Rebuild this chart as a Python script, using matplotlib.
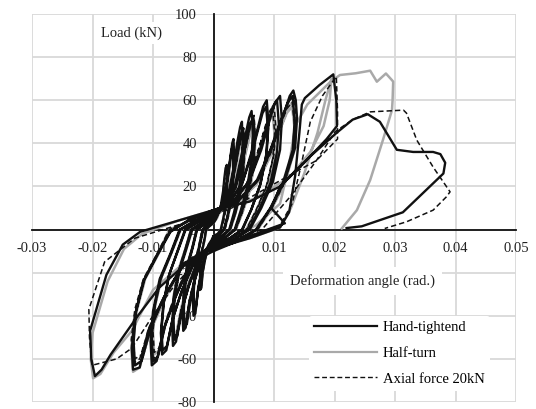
import matplotlib
matplotlib.use("Agg")
import matplotlib.pyplot as plt
from matplotlib.lines import Line2D

plt.rcParams['font.family'] = ['Liberation Serif', 'DejaVu Serif']

# ---------------- data (deformation angle rad., load kN) ----------------
x_ticks = [-0.03, -0.02, -0.01, 0, 0.01, 0.02, 0.03, 0.04, 0.05]
x_ticklabels = ["-0.03", "-0.02", "-0.01", "0", "0.01", "0.02", "0.03", "0.04", "0.05"]
y_ticks = [-80, -60, -40, -20, 0, 20, 40, 60, 80, 100]
y_ticklabels = ["-80", "-60", "-40", "-20", "0", "20", "40", "60", "80", "100"]

series_names = ["Hand-tightend", "Half-turn", "Axial force 20kN"]

# Hand-tightend: one list of (angle, load) points per loading cycle
hand_cycles = [
    [(0, -3), (0.0007, -2), (0.0012, 0), (0.0016, 5), (0.0020, 11), (0.0022, 18), (0.0023, 25), (0.0022, 30), (0.0020, 28.5),
     (0.0018, 24), (0.0016, 18), (0.0012, 11), (0.0006, 6), (0, 3), (-0.0007, 1.5), (-0.0012, 0), (-0.0015, -5), (-0.0019, -10),
     (-0.0022, -17), (-0.0022, -23), (-0.0022, -28), (-0.0020, -27), (-0.0018, -20), (-0.0014, -14), (-0.0008, -7), (-0.0003, -5), (0, -3)],
    [(0.0010, -2.4), (0.0018, 0), (0.0024, 6.7), (0.0029, 15), (0.0033, 25), (0.0034, 34), (0.0033, 42), (0.0031, 40), (0.0028, 34),
     (0.0024, 25), (0.0018, 15.5), (0.0009, 8.4), (0, 4), (-0.0010, 2), (-0.0018, 0), (-0.0023, -7), (-0.0029, -15), (-0.0032, -24),
     (-0.0034, -33), (-0.0033, -40), (-0.0030, -39), (-0.0026, -29), (-0.0020, -20), (-0.0013, -10), (-0.0005, -7), (0, -4)],
    [(0.0010, -2.4), (0.0017, 0), (0.0023, 6), (0.0028, 14), (0.0032, 23), (0.0033, 31), (0.0032, 39), (0.0030, 37), (0.0027, 31),
     (0.0023, 23), (0.0017, 14), (0.0008, 8), (0, 4), (-0.0010, 2), (-0.0017, 0), (-0.0022, -6.5), (-0.0028, -14), (-0.0031, -22),
     (-0.0033, -30), (-0.0032, -37), (-0.0029, -36), (-0.0025, -27), (-0.0019, -18), (-0.0012, -9.5), (-0.0005, -6.5), (0, -4)],
    [(0.0014, -3), (0.0026, 0), (0.0034, 8), (0.0042, 18), (0.0047, 30), (0.0048, 41), (0.0047, 50), (0.0044, 47.5), (0.0039, 40),
     (0.0034, 30), (0.0026, 18.5), (0.0013, 10), (0, 5), (-0.0015, 2.5), (-0.0028, 0), (-0.0035, -8.5), (-0.0044, -17), (-0.0049, -28),
     (-0.0051, -39), (-0.0050, -47), (-0.0046, -45.5), (-0.0040, -34), (-0.0031, -23.5), (-0.0019, -12), (-0.0008, -8), (0, -5)],
    [(0.0015, -3), (0.0027, 0), (0.0036, 7.5), (0.0044, 17), (0.0049, 28), (0.0050, 38.5), (0.0049, 47), (0.0046, 44.6), (0.0041, 37.6),
     (0.0035, 28), (0.0027, 17.4), (0.0013, 9.4), (0, 5), (-0.0014, 2.5), (-0.0027, 0), (-0.0034, -8), (-0.0042, -16.6), (-0.0047, -27),
     (-0.0049, -37), (-0.0048, -45), (-0.0044, -43.7), (-0.0038, -33), (-0.0030, -22.5), (-0.0018, -11.7), (-0.0008, -7.6), (0, -5)],
    [(0.0019, -3.6), (0.0035, 0), (0.0045, 8.8), (0.0056, 20), (0.0063, 33), (0.0065, 45), (0.0063, 55), (0.0059, 52), (0.0053, 44),
     (0.0045, 33), (0.0035, 20), (0.0018, 11), (0, 6), (-0.0020, 3), (-0.0037, 0), (-0.0047, -9.7), (-0.0058, -20), (-0.0066, -32),
     (-0.0068, -45), (-0.0067, -54), (-0.0062, -52), (-0.0054, -39), (-0.0042, -27), (-0.0025, -14), (-0.0010, -9), (0, -6)],
    [(0.0020, -3.6), (0.0036, 0), (0.0047, 8.3), (0.0058, 19), (0.0066, 31), (0.0068, 42.6), (0.0066, 52), (0.0061, 49.4), (0.0055, 41.6),
     (0.0047, 31), (0.0036, 19.2), (0.0018, 10.4), (0, 6), (-0.0019, 3), (-0.0035, 0), (-0.0045, -9.2), (-0.0056, -19), (-0.0064, -30.6),
     (-0.0066, -42.3), (-0.0065, -51), (-0.0060, -49.5), (-0.0052, -37), (-0.0040, -25.5), (-0.0024, -13), (-0.0010, -8.7), (0, -6)],
    [(0.0026, -4.2), (0.0048, 0), (0.0063, 9.6), (0.0078, 21.6), (0.0088, 36), (0.0091, 49), (0.0088, 60), (0.0082, 57), (0.0074, 48),
     (0.0063, 36), (0.0048, 22), (0.0025, 12), (0, 7), (-0.0026, 3.5), (-0.0047, 0), (-0.0060, -10.4), (-0.0074, -21.5), (-0.0083, -35),
     (-0.0087, -48), (-0.0085, -58), (-0.0078, -56), (-0.0068, -42), (-0.0053, -29), (-0.0032, -15), (-0.0013, -10), (0, -7)],
    [(0.0026, -4.2), (0.0047, 0), (0.0062, 9), (0.0077, 20.5), (0.0087, 34), (0.0090, 46.7), (0.0087, 57), (0.0081, 54), (0.0073, 45.6),
     (0.0062, 34), (0.0047, 21), (0.0024, 11.4), (0, 7), (-0.0025, 3.5), (-0.0046, 0), (-0.0059, -10), (-0.0073, -20.7), (-0.0082, -33.6),
     (-0.0086, -46.5), (-0.0084, -56), (-0.0077, -54), (-0.0067, -40.9), (-0.0052, -28), (-0.0031, -14.6), (-0.0013, -9.5), (0, -7)],
    [(0.0033, -4.8), (0.0060, 0), (0.0079, 10), (0.0098, 22), (0.0110, 37), (0.0113, 51), (0.0110, 62), (0.0102, 59), (0.0092, 50),
     (0.0079, 37), (0.0060, 23), (0.0031, 12.4), (0, 8), (-0.0031, 4), (-0.0056, 0), (-0.0071, -11), (-0.0089, -23), (-0.0100, -38),
     (-0.0104, -52), (-0.0102, -63), (-0.0094, -61), (-0.0082, -46), (-0.0063, -31.5), (-0.0039, -16), (-0.0015, -11), (0, -8)],
    [(0.0032, -4.8), (0.0058, 0), (0.0076, 9.6), (0.0094, 21.6), (0.0105, 36), (0.0108, 49), (0.0105, 60), (0.0098, 57), (0.0088, 48),
     (0.0076, 36), (0.0058, 22), (0.0030, 12), (0, 8), (-0.0030, 4), (-0.0055, 0), (-0.0070, -11), (-0.0087, -22.6), (-0.0098, -36.6),
     (-0.0102, -50.6), (-0.0100, -61), (-0.0092, -59), (-0.0080, -44.5), (-0.0062, -30.5), (-0.0038, -16), (-0.0015, -10.4), (0, -8)],
    [(0.0040, -5), (0.0072, 0), (0.0096, 10.6), (0.0118, 23), (0.0135, 38), (0.0138, 52), (0.0136, 60), (0.0132, 64.5), (0.0126, 62),
     (0.0113, 51), (0.0096, 38), (0.0074, 23), (0.0040, 13), (0, 9), (-0.0040, 4.5), (-0.0072, -1), (-0.0094, -12), (-0.0116, -24),
     (-0.0130, -40), (-0.0135, -55), (-0.0133, -65), (-0.0122, -64), (-0.0108, -47), (-0.0083, -32), (-0.0050, -16.5), (-0.0020, -11), (0, -9)],
    [(0.0040, -5), (0.0070, 0), (0.0094, 10), (0.0115, 22), (0.0131, 37), (0.0134, 50), (0.0131, 62), (0.0123, 59), (0.0110, 49.6),
     (0.0094, 37), (0.0072, 23), (0.0038, 12.5), (0, 9), (-0.0040, 4.5), (-0.0071, -1), (-0.0092, -11.5), (-0.0114, -23), (-0.0128, -38),
     (-0.0132, -52), (-0.0130, -63), (-0.0119, -61), (-0.0104, -46), (-0.0081, -31), (-0.0049, -16), (-0.0020, -11), (0, -9)],
    [(0.0060, -4), (0.0110, 1), (0.0125, 8), (0.0135, 25), (0.0142, 45), (0.0146, 58), (0.0151, 61), (0.0175, 67), (0.0198, 72),
     (0.0203, 60), (0.0204, 48), (0.0187, 42), (0.0150, 31), (0.0110, 20), (0.0060, 13), (0, 9), (-0.0060, 4), (-0.0121, -1),
     (-0.0150, -7), (-0.0177, -21), (-0.0204, -47), (-0.0202, -60), (-0.0196, -68), (-0.0185, -65), (-0.0170, -58), (-0.0150, -50),
     (-0.0125, -40), (-0.0090, -27), (-0.0050, -17), (0, -10)],
    [(0.0060, -3), (0.0118, 2.9), (0.0096, 9.8), (0.0110, 20), (0.0160, 34), (0.0204, 45), (0.0230, 51), (0.0255, 53.5), (0.0275, 50),
     (0.0290, 43), (0.0303, 37), (0.0330, 36), (0.0363, 36), (0.0375, 35), (0.0383, 31), (0.0380, 26), (0.0313, 8), (0.0245, 1.5),
     (0.0220, 0.7)],
]

half_cycles = [
    [(0, -3), (0.0007, -2), (0.0012, 0), (0.0016, 4.3), (0.0020, 10), (0.0022, 16), (0.0023, 22), (0.0022, 27), (0.0020, 25.6),
     (0.0018, 21.6), (0.0016, 16), (0.0012, 10), (0.0006, 5.4), (0, 3), (-0.0007, 1.5), (-0.0012, 0), (-0.0015, -4.9), (-0.0019, -10),
     (-0.0022, -16), (-0.0022, -22.4), (-0.0022, -27), (-0.0020, -26), (-0.0018, -19.7), (-0.0014, -13.5), (-0.0008, -7), (-0.0003, -4.6), (0, -3)],
    [(0.0010, -2.4), (0.0018, 0), (0.0024, 6), (0.0029, 13), (0.0033, 22), (0.0034, 30), (0.0033, 37), (0.0031, 35), (0.0028, 30),
     (0.0024, 22), (0.0018, 13.7), (0.0009, 7.4), (0, 4), (-0.0010, 2), (-0.0018, 0), (-0.0023, -6.8), (-0.0029, -14), (-0.0032, -23),
     (-0.0034, -31.5), (-0.0033, -38), (-0.0030, -37), (-0.0026, -28), (-0.0020, -19), (-0.0013, -10), (-0.0005, -6.5), (0, -4)],
    [(0.0015, -3), (0.0028, 0), (0.0036, 7.2), (0.0045, 16), (0.0050, 27), (0.0052, 37), (0.0050, 45), (0.0047, 43), (0.0042, 36),
     (0.0036, 27), (0.0028, 16.7), (0.0014, 9), (0, 5), (-0.0015, 2.5), (-0.0028, 0), (-0.0035, -8.3), (-0.0044, -17), (-0.0049, -27.6),
     (-0.0051, -38), (-0.0050, -46), (-0.0046, -44.6), (-0.0040, -33.6), (-0.0031, -23), (-0.0019, -12), (-0.0008, -7.8), (0, -5)],
    [(0.0020, -3.6), (0.0037, 0), (0.0048, 8), (0.0060, 18), (0.0067, 30), (0.0069, 41), (0.0067, 50), (0.0062, 47.5), (0.0056, 40),
     (0.0048, 30), (0.0037, 18.5), (0.0019, 10), (0, 6), (-0.0020, 3), (-0.0037, 0), (-0.0047, -9.4), (-0.0058, -19), (-0.0066, -31),
     (-0.0068, -43), (-0.0067, -52), (-0.0062, -50), (-0.0054, -38), (-0.0042, -26), (-0.0025, -13.5), (-0.0010, -8.8), (0, -6)],
    [(0.0020, -3.6), (0.0036, 0), (0.0047, 7.5), (0.0058, 17), (0.0066, 28), (0.0068, 38.5), (0.0066, 47), (0.0061, 44.6), (0.0055, 37.6),
     (0.0047, 28), (0.0036, 17.4), (0.0018, 9.4), (0, 6), (-0.0019, 3), (-0.0036, 0), (-0.0046, -8.8), (-0.0057, -18), (-0.0065, -29.4),
     (-0.0067, -40.7), (-0.0066, -49), (-0.0061, -47.5), (-0.0053, -35.8), (-0.0041, -24.5), (-0.0025, -12.7), (-0.0010, -8.3), (0, -6)],
    [(0.0030, -4.2), (0.0055, 0), (0.0072, 9), (0.0089, 20), (0.0100, 33.6), (0.0103, 46), (0.0100, 56), (0.0093, 53), (0.0084, 45),
     (0.0072, 33.6), (0.0055, 20.7), (0.0028, 11), (0, 7), (-0.0030, 3.5), (-0.0055, 0), (-0.0070, -11), (-0.0087, -22.6),
     (-0.0098, -36.6), (-0.0102, -50.6), (-0.0100, -61), (-0.0092, -59), (-0.0080, -44.5), (-0.0062, -30.5), (-0.0038, -16),
     (-0.0015, -10.4), (0, -7)],
    [(0.0029, -4.2), (0.0054, 0), (0.0070, 8.5), (0.0087, 19), (0.0098, 32), (0.0101, 43.5), (0.0098, 53), (0.0091, 50), (0.0082, 42.4),
     (0.0070, 32), (0.0054, 19.6), (0.0027, 10.6), (0, 7), (-0.0029, 3.5), (-0.0054, 0), (-0.0069, -10.4), (-0.0085, -21.5),
     (-0.0096, -34.8), (-0.0100, -48), (-0.0098, -58), (-0.0090, -56), (-0.0078, -42.3), (-0.0061, -29), (-0.0037, -15),
     (-0.0015, -9.9), (0, -7)],
    [(0.0040, -4.8), (0.0073, 0), (0.0096, 9.6), (0.0118, 21.6), (0.0133, 36), (0.0137, 49), (0.0133, 60), (0.0124, 57), (0.0112, 48),
     (0.0096, 36), (0.0073, 22), (0.0037, 12), (0, 8), (-0.0040, 4), (-0.0073, 0), (-0.0093, -12), (-0.0116, -24), (-0.0130, -40),
     (-0.0136, -55), (-0.0133, -66), (-0.0122, -64), (-0.0106, -48), (-0.0082, -33), (-0.0051, -17), (-0.0020, -11), (0, -8)],
    [(0.0039, -4.8), (0.0071, 0), (0.0094, 9), (0.0116, 20.5), (0.0130, 34), (0.0134, 46.7), (0.0130, 57), (0.0121, 54), (0.0109, 45.6),
     (0.0094, 34), (0.0071, 21), (0.0036, 11.4), (0, 8), (-0.0039, 4), (-0.0071, 0), (-0.0091, -11.3), (-0.0113, -23), (-0.0127, -38),
     (-0.0133, -52), (-0.0130, -63), (-0.0119, -61), (-0.0104, -46), (-0.0080, -31.5), (-0.0050, -16), (-0.0020, -10.7), (0, -8)],
    [(0.0060, -4), (0.0110, 1), (0.0128, 10), (0.0150, 26), (0.0172, 45), (0.0185, 60), (0.0195, 70), (0.0192, 60), (0.0182, 48),
     (0.0160, 36), (0.0125, 24), (0.0065, 14), (0, 9), (-0.0060, 4), (-0.0118, -2), (-0.0148, -9), (-0.0175, -24), (-0.0200, -48),
     (-0.0203, -60), (-0.0199, -69), (-0.0187, -67), (-0.0165, -57), (-0.0135, -47), (-0.0100, -28), (-0.0055, -17), (0, -9)],
    [(0.0070, 2), (0.0110, 12), (0.0125, 30), (0.0135, 48), (0.0155, 58), (0.0173, 63), (0.0193, 68.5), (0.0209, 71.7), (0.0235, 72.5),
     (0.0259, 73.7), (0.0270, 68.6), (0.0285, 72.4), (0.0295, 69.3), (0.0297, 68.6), (0.0296, 60), (0.0295, 55.4), (0.0280, 41.5),
     (0.0259, 23), (0.0237, 9), (0.0212, 0.5)],
]

axial_cycles = [
    [(0, -3), (0.0007, -2), (0.0013, 0), (0.0017, 4), (0.0021, 10), (0.0022, 16), (0.0023, 22), (0.0022, 27), (0.0020, 25),
     (0.0017, 21), (0.0015, 15), (0.0011, 9.5), (0.0005, 5), (0, 3), (-0.0007, 1.5), (-0.0013, 0), (-0.0016, -5), (-0.0020, -10),
     (-0.0022, -16), (-0.0023, -22), (-0.0022, -27), (-0.0020, -26), (-0.0017, -19), (-0.0013, -13), (-0.0007, -7), (-0.0003, -4.5), (0, -3)],
    [(0.0010, -2.4), (0.0019, 0), (0.0025, 6.4), (0.0030, 14), (0.0033, 24), (0.0034, 33), (0.0033, 40), (0.0031, 38), (0.0027, 32),
     (0.0023, 24), (0.0017, 15), (0.0008, 8), (0, 4), (-0.0010, 2), (-0.0019, 0), (-0.0024, -7), (-0.0030, -14), (-0.0033, -23),
     (-0.0035, -31.5), (-0.0033, -38), (-0.0030, -37), (-0.0026, -28), (-0.0020, -19), (-0.0012, -10), (-0.0005, -6.5), (0, -4)],
    [(0.0015, -3), (0.0028, 0), (0.0036, 7.5), (0.0045, 17), (0.0050, 28), (0.0052, 38.5), (0.0050, 47), (0.0047, 44.6), (0.0042, 37.6),
     (0.0036, 28), (0.0028, 17.4), (0.0014, 9.4), (0, 5), (-0.0015, 2.5), (-0.0028, 0), (-0.0035, -8), (-0.0044, -16.6), (-0.0049, -27),
     (-0.0051, -37), (-0.0050, -45), (-0.0046, -43.7), (-0.0040, -33), (-0.0031, -22.5), (-0.0019, -11.7), (-0.0008, -7.6), (0, -5)],
    [(0.0015, -3), (0.0027, 0), (0.0035, 7.2), (0.0044, 16), (0.0049, 27), (0.0051, 37), (0.0049, 45), (0.0046, 43), (0.0041, 36),
     (0.0035, 27), (0.0027, 16.7), (0.0013, 9), (0, 5), (-0.0014, 2.5), (-0.0027, 0), (-0.0034, -7.7), (-0.0043, -16), (-0.0048, -26),
     (-0.0050, -35.7), (-0.0049, -43), (-0.0045, -41.7), (-0.0039, -31.4), (-0.0030, -21.5), (-0.0018, -11), (-0.0008, -7.3), (0, -5)],
    [(0.0020, -3.6), (0.0037, 0), (0.0048, 8.5), (0.0060, 19), (0.0067, 32), (0.0069, 43.5), (0.0067, 53), (0.0062, 50), (0.0056, 42),
     (0.0048, 32), (0.0037, 19.6), (0.0019, 10.6), (0, 6), (-0.0020, 3), (-0.0037, 0), (-0.0047, -9.4), (-0.0058, -19), (-0.0066, -31),
     (-0.0068, -43), (-0.0067, -52), (-0.0062, -50), (-0.0054, -38), (-0.0042, -26), (-0.0025, -13.5), (-0.0010, -8.8), (0, -6)],
    [(0.0020, -3.6), (0.0036, 0), (0.0047, 8), (0.0058, 18), (0.0066, 30), (0.0068, 41), (0.0066, 50), (0.0061, 47.5), (0.0055, 40),
     (0.0047, 30), (0.0036, 18.5), (0.0018, 10), (0, 6), (-0.0019, 3), (-0.0036, 0), (-0.0046, -9), (-0.0057, -18.5), (-0.0065, -30),
     (-0.0067, -41.5), (-0.0066, -50), (-0.0061, -48.5), (-0.0053, -36.5), (-0.0041, -25), (-0.0025, -13), (-0.0010, -8.5), (0, -6)],
    [(0.0030, -4.2), (0.0055, 0), (0.0072, 9.3), (0.0089, 21), (0.0100, 35), (0.0103, 47.5), (0.0100, 58), (0.0093, 55), (0.0084, 46.4),
     (0.0072, 35), (0.0055, 21.5), (0.0028, 11.6), (0, 7), (-0.0030, 3.5), (-0.0055, 0), (-0.0070, -10.8), (-0.0087, -22), (-0.0098, -36),
     (-0.0102, -50), (-0.0100, -60), (-0.0092, -58), (-0.0080, -44), (-0.0062, -30), (-0.0038, -15.6), (-0.0015, -10), (0, -7)],
    [(0.0029, -4.2), (0.0054, 0), (0.0070, 8.8), (0.0087, 19.8), (0.0098, 33), (0.0101, 45), (0.0098, 55), (0.0091, 52), (0.0082, 44),
     (0.0070, 33), (0.0054, 20.4), (0.0027, 11), (0, 7), (-0.0029, 3.5), (-0.0054, 0), (-0.0069, -10.3), (-0.0085, -21), (-0.0096, -34),
     (-0.0100, -47.3), (-0.0098, -57), (-0.0090, -55), (-0.0078, -41.6), (-0.0061, -28.5), (-0.0037, -14.8), (-0.0015, -9.7), (0, -7)],
    [(0.0040, -4.8), (0.0073, 0), (0.0096, 10), (0.0118, 22), (0.0133, 37), (0.0137, 51), (0.0133, 62), (0.0124, 59), (0.0112, 50),
     (0.0096, 37), (0.0073, 23), (0.0037, 12.4), (0, 8), (-0.0040, 4), (-0.0073, 0), (-0.0093, -11), (-0.0116, -23), (-0.0130, -37),
     (-0.0136, -51), (-0.0133, -62), (-0.0122, -60), (-0.0106, -45), (-0.0082, -31), (-0.0051, -16), (-0.0020, -10.5), (0, -8)],
    [(0.0039, -4.8), (0.0071, 0), (0.0094, 9.4), (0.0116, 21), (0.0130, 35), (0.0134, 48), (0.0130, 59), (0.0121, 56), (0.0109, 47),
     (0.0094, 35), (0.0071, 21.8), (0.0036, 11.8), (0, 8), (-0.0039, 4), (-0.0071, 0), (-0.0091, -10.8), (-0.0113, -22), (-0.0127, -36),
     (-0.0133, -50), (-0.0130, -60), (-0.0119, -58), (-0.0104, -44), (-0.0080, -30), (-0.0050, -15.6), (-0.0020, -10.2), (0, -8)],
    [(0.0060, -3), (0.0110, 2), (0.0130, 12), (0.0145, 30), (0.0160, 50), (0.0180, 62), (0.0203, 71), (0.0205, 55), (0.0205, 42),
     (0.0170, 32), (0.0131, 26), (0.0077, 17.5), (0.0030, 10), (0, 7), (-0.0060, 2), (-0.0130, -4), (-0.0180, -15), (-0.0206, -37),
     (-0.0205, -50), (-0.0201, -63), (-0.0160, -60), (-0.0135, -55), (-0.0105, -42), (-0.0070, -28), (-0.0030, -15), (0, -8)],
    [(0.0080, 0), (0.0126, 15), (0.0170, 32), (0.0201, 45.4), (0.0230, 51), (0.0259, 54.6), (0.0314, 55.4), (0.0319, 54),
     (0.0336, 41.5), (0.0363, 29), (0.0391, 17.5), (0.0385, 15.2), (0.0363, 9), (0.0319, 3.6), (0.0283, 0.5)],
]

x_title = "Deformation angle (rad.)"
y_title = "Load (kN)"

# ---------------- figure ----------------
W, H, DPI = 536, 409, 100
fig = plt.figure(figsize=(W / DPI, H / DPI), dpi=DPI)
ax = fig.add_axes([32 / W, 1 - 402 / H, 484 / W, 388 / H])
ax.set_xlim(-0.03, 0.05)
ax.set_ylim(-80, 100)

FS = 10.5
BLACK = "#111111"
GREY = "#a9a9a9"
DASH = (0, (3.5, 2))


def flatten(cycles):
    pts = [p for cyc in cycles for p in cyc]
    return [p[0] for p in pts], [p[1] for p in pts]


hx, hy = flatten(hand_cycles)
gx, gy = flatten(half_cycles)
ax_, ay_ = flatten(axial_cycles)

ax.plot(gx, gy, color=GREY, lw=1.8, zorder=3, solid_joinstyle="round")
ax.plot(hx, hy, color=BLACK, lw=1.7, zorder=4, solid_joinstyle="round")
ax.plot(ax_, ay_, color=BLACK, lw=1.1, linestyle=DASH, zorder=5)

ax.set_xticks(x_ticks)
ax.set_xticklabels(x_ticklabels)
ax.set_yticks(y_ticks)
ax.set_yticklabels(y_ticklabels)
ax.tick_params(length=0, labelsize=FS, colors="#222222")
ax.tick_params(axis="x", pad=9)
ax.tick_params(axis="y", pad=12)
ax.grid(True, color="#d9d9d9", lw=1.3)
ax.set_axisbelow(True)

for s in ("top", "right"):
    ax.spines[s].set_visible(False)
for s in ("left", "bottom"):
    ax.spines[s].set_position(("data", 0))
    ax.spines[s].set_color(BLACK)
    ax.spines[s].set_linewidth(1.3)
    ax.spines[s].set_zorder(2.6)

ax.text(-0.0135, 91, y_title, fontsize=FS, ha="center", va="center", color="#222222", zorder=6,
        bbox=dict(facecolor="white", edgecolor="none", pad=3))
ax.text(0.0247, -24, x_title, fontsize=FS, ha="center", va="center", color="#222222", zorder=6,
        bbox=dict(facecolor="white", edgecolor="none", pad=5))

handles = [
    Line2D([], [], color=BLACK, lw=1.6),
    Line2D([], [], color=GREY, lw=1.6),
    Line2D([], [], color=BLACK, lw=1.0, linestyle=DASH),
]
leg = ax.legend(handles, series_names, loc="upper left", bbox_to_anchor=(309 / W, 1 - 316 / H),
                bbox_transform=fig.transFigure, frameon=True, fontsize=FS, handlelength=4.3,
                handletextpad=0.4, labelspacing=0.85, borderpad=0.35, borderaxespad=0)
leg.get_frame().set_facecolor("white")
leg.get_frame().set_edgecolor("none")
leg.get_frame().set_alpha(1)
leg.set_zorder(7)

fig.savefig("out.png", dpi=DPI)
